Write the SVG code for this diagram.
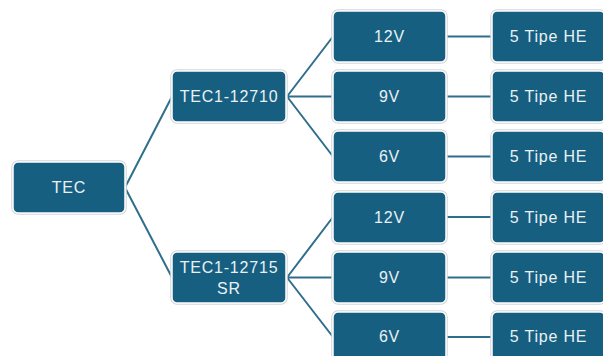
<svg xmlns="http://www.w3.org/2000/svg" width="603" height="356" viewBox="0 0 603 356">
<style>
.halo{fill:none;stroke:#d4d6d8;stroke-width:3.5}
.box{fill:#175f80;stroke:#ffffff;stroke-width:1.5}
.t{font-family:"Liberation Sans",Arial,sans-serif;font-size:16px;fill:#eaf1f5;text-anchor:middle;letter-spacing:0.8px}
.c{fill:none;stroke:#2f6f8c;stroke-width:2}
</style>
<rect width="603" height="356" fill="#ffffff"/>
<g id="connectors">
<path class="c" d="M125 187.5 L172 96.5 M125 187.5 L172 277.5"/>
<path class="c" d="M287 96.5 L333 36.5 M287 96.5 L333 96.5 M287 96.5 L333 156.5"/>
<path class="c" d="M287 277.5 L333 217 M287 277.5 L333 277.5 M287 277.5 L333 337"/>
<path class="c" d="M446 36.5 H492 M446 96.5 H492 M446 156.5 H492 M446 217 H492 M446 277.5 H492 M446 337 H492"/>
</g>
<g id="tec"><rect class="halo" x="13" y="162" width="112" height="51" rx="5"/><rect class="box" x="13" y="162" width="112" height="51" rx="5"/><text class="t" x="69" y="193">TEC</text></g>
<g id="tec12710"><rect class="halo" x="172" y="71" width="114" height="51" rx="5"/><rect class="box" x="172" y="71" width="114" height="51" rx="5"/><text class="t" x="229" y="102">TEC1-12710</text></g>
<g id="tec12715"><rect class="halo" x="172" y="252" width="114" height="51" rx="5"/><rect class="box" x="172" y="252" width="114" height="51" rx="5"/><text class="t" x="229" y="272.5">TEC1-12715</text><text class="t" x="229" y="293.5">SR</text></g>
<g id="v12a"><rect class="halo" x="333" y="11" width="113" height="51" rx="5"/><rect class="box" x="333" y="11" width="113" height="51" rx="5"/><text class="t" x="389.5" y="42">12V</text></g>
<g id="v9a"><rect class="halo" x="333" y="71" width="113" height="51" rx="5"/><rect class="box" x="333" y="71" width="113" height="51" rx="5"/><text class="t" x="389.5" y="102">9V</text></g>
<g id="v6a"><rect class="halo" x="333" y="131" width="113" height="51" rx="5"/><rect class="box" x="333" y="131" width="113" height="51" rx="5"/><text class="t" x="389.5" y="162">6V</text></g>
<g id="v12b"><rect class="halo" x="333" y="192" width="113" height="51" rx="5"/><rect class="box" x="333" y="192" width="113" height="51" rx="5"/><text class="t" x="389.5" y="223">12V</text></g>
<g id="v9b"><rect class="halo" x="333" y="252" width="113" height="51" rx="5"/><rect class="box" x="333" y="252" width="113" height="51" rx="5"/><text class="t" x="389.5" y="283">9V</text></g>
<g id="v6b"><rect class="halo" x="333" y="312" width="113" height="51" rx="5"/><rect class="box" x="333" y="312" width="113" height="51" rx="5"/><text class="t" x="389.5" y="342">6V</text></g>
<g id="he1"><rect class="halo" x="492" y="11" width="113" height="51" rx="5"/><rect class="box" x="492" y="11" width="113" height="51" rx="5"/><text class="t" x="548.5" y="42">5 Tipe HE</text></g>
<g id="he2"><rect class="halo" x="492" y="71" width="113" height="51" rx="5"/><rect class="box" x="492" y="71" width="113" height="51" rx="5"/><text class="t" x="548.5" y="102">5 Tipe HE</text></g>
<g id="he3"><rect class="halo" x="492" y="131" width="113" height="51" rx="5"/><rect class="box" x="492" y="131" width="113" height="51" rx="5"/><text class="t" x="548.5" y="162">5 Tipe HE</text></g>
<g id="he4"><rect class="halo" x="492" y="192" width="113" height="51" rx="5"/><rect class="box" x="492" y="192" width="113" height="51" rx="5"/><text class="t" x="548.5" y="223">5 Tipe HE</text></g>
<g id="he5"><rect class="halo" x="492" y="252" width="113" height="51" rx="5"/><rect class="box" x="492" y="252" width="113" height="51" rx="5"/><text class="t" x="548.5" y="283">5 Tipe HE</text></g>
<g id="he6"><rect class="halo" x="492" y="312" width="113" height="51" rx="5"/><rect class="box" x="492" y="312" width="113" height="51" rx="5"/><text class="t" x="548.5" y="342">5 Tipe HE</text></g>
</svg>
